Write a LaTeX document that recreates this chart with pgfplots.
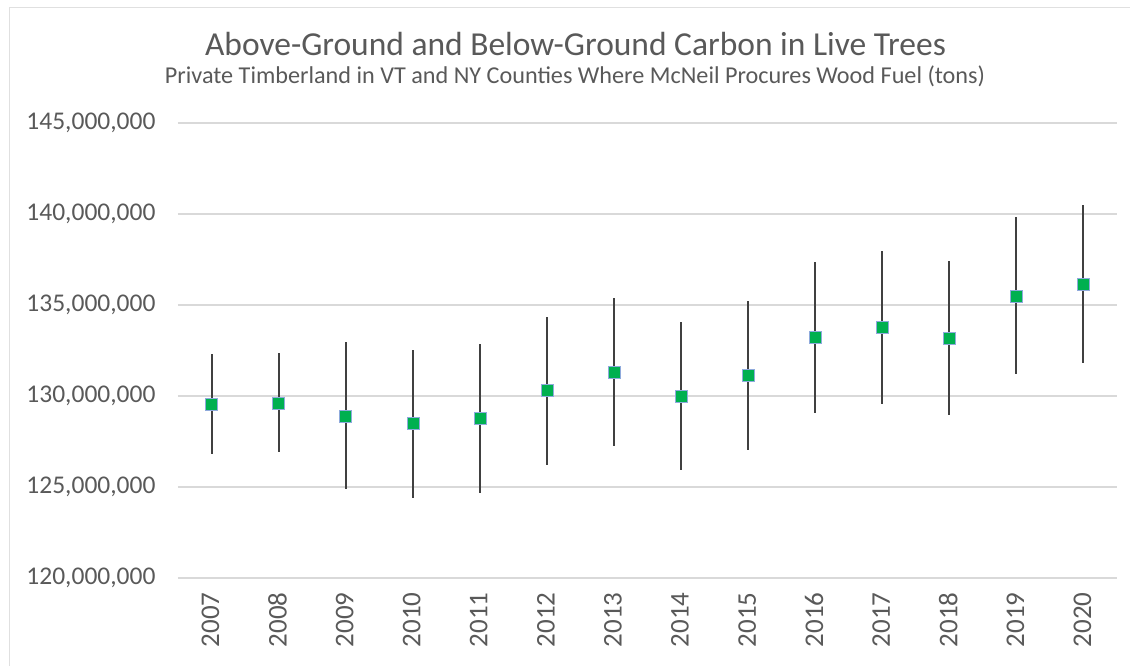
\documentclass[border=0pt]{standalone}
\usepackage{pgfplots}
\pgfplotsset{compat=1.18}
\usepackage{fontspec}
\setmainfont{Carlito}
\definecolor{txt}{HTML}{595959}
\definecolor{gridc}{HTML}{D9D9D9}
\definecolor{mk}{HTML}{00B050}
\definecolor{mkb}{HTML}{4472C4}
\definecolor{err}{HTML}{404040}
\begin{document}
\begin{tikzpicture}[x=1pt,y=1pt]
\useasboundingbox (0,0) rectangle (1130,-666);
\draw[color=black!12, line width=1.5pt] (9.5,-680) -- (9.5,-7.5) -- (1140,-7.5);
\node[text=txt, font=\fontsize{33.5}{38}\selectfont, anchor=base, inner sep=0pt] at (575.5,-56) {Above-Ground and Below-Ground Carbon in Live Trees};
\node[text=txt, font=\fontsize{24.2}{27}\selectfont, anchor=base, inner sep=0pt] at (575,-83.5) {Private Timberland in VT and NY Counties Where McNeil Procures Wood Fuel (tons)};
\begin{axis}[at={(178pt,-578pt)}, anchor=south west, scale only axis,
  width=939pt, height=455pt,
  xmin=-0.5, xmax=13.5, ymin=120, ymax=145,
  ytick={120,125,130,135,140,145},
  yticklabels={{120,000,000},{125,000,000},{130,000,000},{135,000,000},{140,000,000},{145,000,000}},
  xtick={0,...,13},
  xticklabels={2007,2008,2009,2010,2011,2012,2013,2014,2015,2016,2017,2018,2019,2020},
  axis x line*=bottom, axis y line*=left,
  y axis line style={draw=none},
  x axis line style={draw=gridc, line width=1.2pt},
  major tick length=0pt,
  ymajorgrids, grid style={draw=gridc, line width=1.2pt},
  yticklabel style={text=txt, font=\fontsize{25.5}{28}\selectfont, anchor=east, xshift=-19pt},
  xticklabel style={text=txt, font=\fontsize{27}{30}\selectfont, rotate=90, anchor=east, xshift=-11pt, yshift=1pt},
  clip=false]
\addplot[only marks, mark=none,
  error bars/.cd, y dir=both, y explicit, error mark=none,
  error bar style={line width=2pt, err}]
coordinates {
(0,129.54) += (0,2.75) -= (0,2.75)
(1,129.63) += (0,2.76) -= (0,2.71)
(2,128.90) += (0,4.04) -= (0,3.99)
(3,128.48) += (0,4.03) -= (0,4.07)
(4,128.76) += (0,4.07) -= (0,4.07)
(5,130.31) += (0,4.04) -= (0,4.08)
(6,131.32) += (0,4.07) -= (0,4.07)
(7,129.98) += (0,4.06) -= (0,4.03)
(8,131.14) += (0,4.07) -= (0,4.13)
(9,133.25) += (0,4.12) -= (0,4.16)
(10,133.78) += (0,4.20) -= (0,4.24)
(11,133.19) += (0,4.24) -= (0,4.25)
(12,135.50) += (0,4.35) -= (0,4.31)
(13,136.16) += (0,4.33) -= (0,4.34)
};
\addplot[only marks, mark=square*, mark size=6pt,
  mark options={fill=mk, draw=mkb!60, line width=0.4pt}]
coordinates {
(0,129.54) (1,129.63) (2,128.90) (3,128.48) (4,128.76) (5,130.31) (6,131.32)
(7,129.98) (8,131.14) (9,133.25) (10,133.78) (11,133.19) (12,135.50) (13,136.16)
};
\end{axis}
\end{tikzpicture}
\end{document}
